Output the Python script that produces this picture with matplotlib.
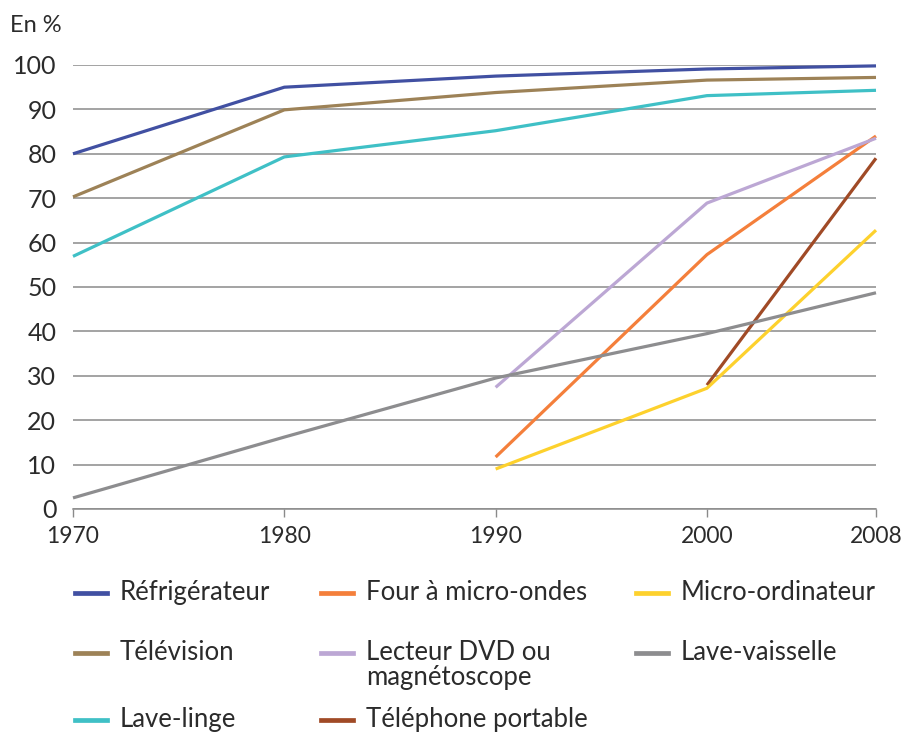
import matplotlib
matplotlib.use('Agg')
import matplotlib.pyplot as plt
from matplotlib.lines import Line2D
from matplotlib import font_manager

# pick a condensed family if we have one
names = {f.name for f in font_manager.fontManager.ttflist}
fam = 'Liberation Sans Narrow' if 'Liberation Sans Narrow' in names else 'Lato'
plt.rcParams['font.family'] = [fam, 'DejaVu Sans']

years = [1970, 1980, 1990, 2000, 2008]
refrigerateur = [80, 95, 97.5, 99.1, 99.8]
television = [70.3, 89.9, 93.8, 96.6, 97.2]
lave_linge = [56.9, 79.3, 85.2, 93.1, 94.3]
lave_vaisselle = [2.5, 16.2, 29.5, 39.5, 48.7]
years_90 = [1990, 2000, 2008]
lecteur_dvd = [27.4, 68.9, 83.5]
four_micro = [11.7, 57.3, 84.0]
micro_ordi = [9.0, 27.2, 62.8]
years_00 = [2000, 2008]
telephone = [27.9, 79.0]

series = [
    ('Réfrigérateur', years, refrigerateur, '#4150a2'),
    ('Télévision', years, television, '#9d8257'),
    ('Lave-linge', years, lave_linge, '#3fc0c6'),
    ('Four à micro-ondes', years_90, four_micro, '#f47f3b'),
    ('Lecteur DVD ou\nmagnétoscope', years_90, lecteur_dvd, '#bca7d4'),
    ('Téléphone portable', years_00, telephone, '#a04a26'),
    ('Micro-ordinateur', years_90, micro_ordi, '#fdd12d'),
    ('Lave-vaisselle', years, lave_vaisselle, '#8d8d8f'),
]

W, H = 902, 740
fig = plt.figure(figsize=(W / 100, H / 100), dpi=100)
ax = fig.add_axes([73 / W, 1 - 509 / H, (876 - 73) / W, (509 - 65) / H])

for label, xs, ys, col in series:
    ax.plot(xs, ys, color=col, lw=2.3, solid_capstyle='butt', clip_on=False, zorder=3)

ax.set_xlim(1970, 2008)
ax.set_ylim(0, 100)
ax.set_xticks(years)
ax.set_yticks(range(0, 101, 10))
ax.yaxis.grid(True, color='#8a8a8a', lw=1.1)
ax.set_axisbelow(True)
for s in ['top', 'right', 'left']:
    ax.spines[s].set_visible(False)
ax.spines['bottom'].set_color('#8a8a8a')
ax.spines['bottom'].set_linewidth(1.1)
ax.tick_params(axis='x', direction='out', length=6, width=1, color='#8a8a8a',
               labelsize=16.5, labelcolor='#2b2b2b', pad=6)
ax.tick_params(axis='y', length=0, labelsize=18, labelcolor='#2b2b2b', pad=12)

fig.text(10 / W, 1 - 26 / H, 'En %', fontsize=17, color='#2b2b2b', va='center', ha='left')

# legend drawn by hand so rows line up across columns
col_x = [75, 321, 636]
row_y = [593, 653, 720]
pos = [(0, 0), (0, 1), (0, 2), (1, 0), (1, 1), (1, 2), (2, 0), (2, 1)]
for (label, xs, ys, col), (c, r) in zip(series, pos):
    x0 = col_x[c]
    y0 = 1 - row_y[r] / H
    fig.add_artist(Line2D([x0 / W, (x0 + 32) / W], [y0, y0], color=col, lw=3.4,
                          transform=fig.transFigure))
    fig.text((x0 + 45) / W, y0 + 13 / H, label, fontsize=18.5, color='#2b2b2b',
             va='top', ha='left', linespacing=1.0)

fig.savefig('out.png', dpi=100)
